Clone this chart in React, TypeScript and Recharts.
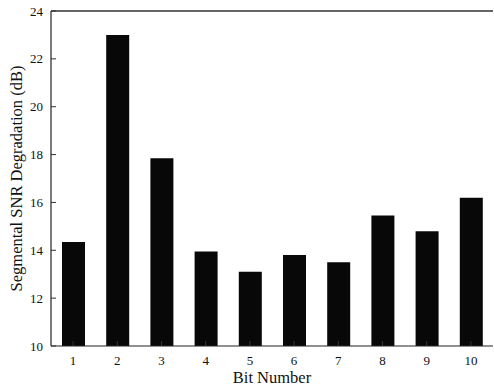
import { ComposedChart, Bar, Line, XAxis, YAxis, Label, ReferenceLine } from "recharts"

const bits = ["1", "2", "3", "4", "5", "6", "7", "8", "9", "10"]
const degradation = [14.35, 23.0, 17.85, 13.95, 13.1, 13.8, 13.5, 15.45, 14.8, 16.2]
const yTicks = [10, 12, 14, 16, 18, 20, 22, 24]

const data = bits.map((b, i) => ({ bit: b, snr: degradation[i] }))

const FONT = "Times New Roman, Liberation Serif, DejaVu Serif, serif"
const TICK_LEN = 5
const Y_MIN = 10
const Y_MAX = 24

// ticks point into the plot, labels sit outside
const LeftTick = (props: any) => {
  const { x, y, payload } = props
  return (
    <g>
      <line x1={x + 8} x2={x + 8 + TICK_LEN} y1={y} y2={y} stroke="#333" />
      <text x={x} y={y} dy={4.5} textAnchor="end" style={{ fontSize: 13, fontFamily: FONT }} fill="#111">
        {payload.value}
      </text>
    </g>
  )
}

const BottomTick = (props: any) => {
  const { x, y, payload } = props
  return (
    <g>
      <line x1={x} x2={x} y1={y} y2={y - TICK_LEN} stroke="#333" />
      <text x={x} y={y} dy={19} textAnchor="middle" style={{ fontSize: 13, fontFamily: FONT }} fill="#111">
        {payload.value}
      </text>
    </g>
  )
}

export default function App() {
  return (
    <div style={{ position: "absolute", left: 0, top: 0, background: "#fff", fontFamily: FONT }}>
      <ComposedChart
        width={494}
        height={387}
        data={data}
        margin={{ top: 10, right: 1, left: 0, bottom: 0 }}
        barSize={23}
      >
        <XAxis
          dataKey="bit"
          height={41}
          tickSize={0}
          tickMargin={0}
          tick={<BottomTick />}
          axisLine={{ stroke: "#222", strokeWidth: 1.2 }}
          tickLine={false}
        >
          <Label
            value="Bit Number"
            position="insideBottom"
            offset={4}
            style={{ fontSize: 16.5, fontFamily: FONT, fill: "#111" }}
          />
        </XAxis>
        <XAxis
          dataKey="bit"
          xAxisId="top"
          orientation="top"
          height={1}
          tick={false}
          tickLine={false}
          axisLine={{ stroke: "#333", strokeWidth: 1.2 }}
        />
        <YAxis
          width={51}
          domain={[Y_MIN, Y_MAX]}
          ticks={yTicks}
          allowDataOverflow
          tickSize={0}
          tickMargin={8}
          tick={<LeftTick />}
          axisLine={{ stroke: "#222", strokeWidth: 1.2 }}
          tickLine={false}
        >
          <Label
            value="Segmental SNR Degradation (dB)"
            angle={-90}
            position="insideLeft"
            offset={16}
            style={{ textAnchor: "middle", fontSize: 16.5, fontFamily: FONT, fill: "#111" }}
          />
        </YAxis>
        <ReferenceLine y={Y_MAX} stroke="#333" strokeWidth={1.2} />
        <Bar dataKey="snr" fill="#080808" isAnimationActive={false} />
        {/* hidden series tied to the top axis so the frame line gets drawn */}
        <Line
          dataKey="snr"
          xAxisId="top"
          stroke="#000"
          strokeOpacity={0}
          dot={false}
          activeDot={false}
          isAnimationActive={false}
        />
      </ComposedChart>
    </div>
  )
}
